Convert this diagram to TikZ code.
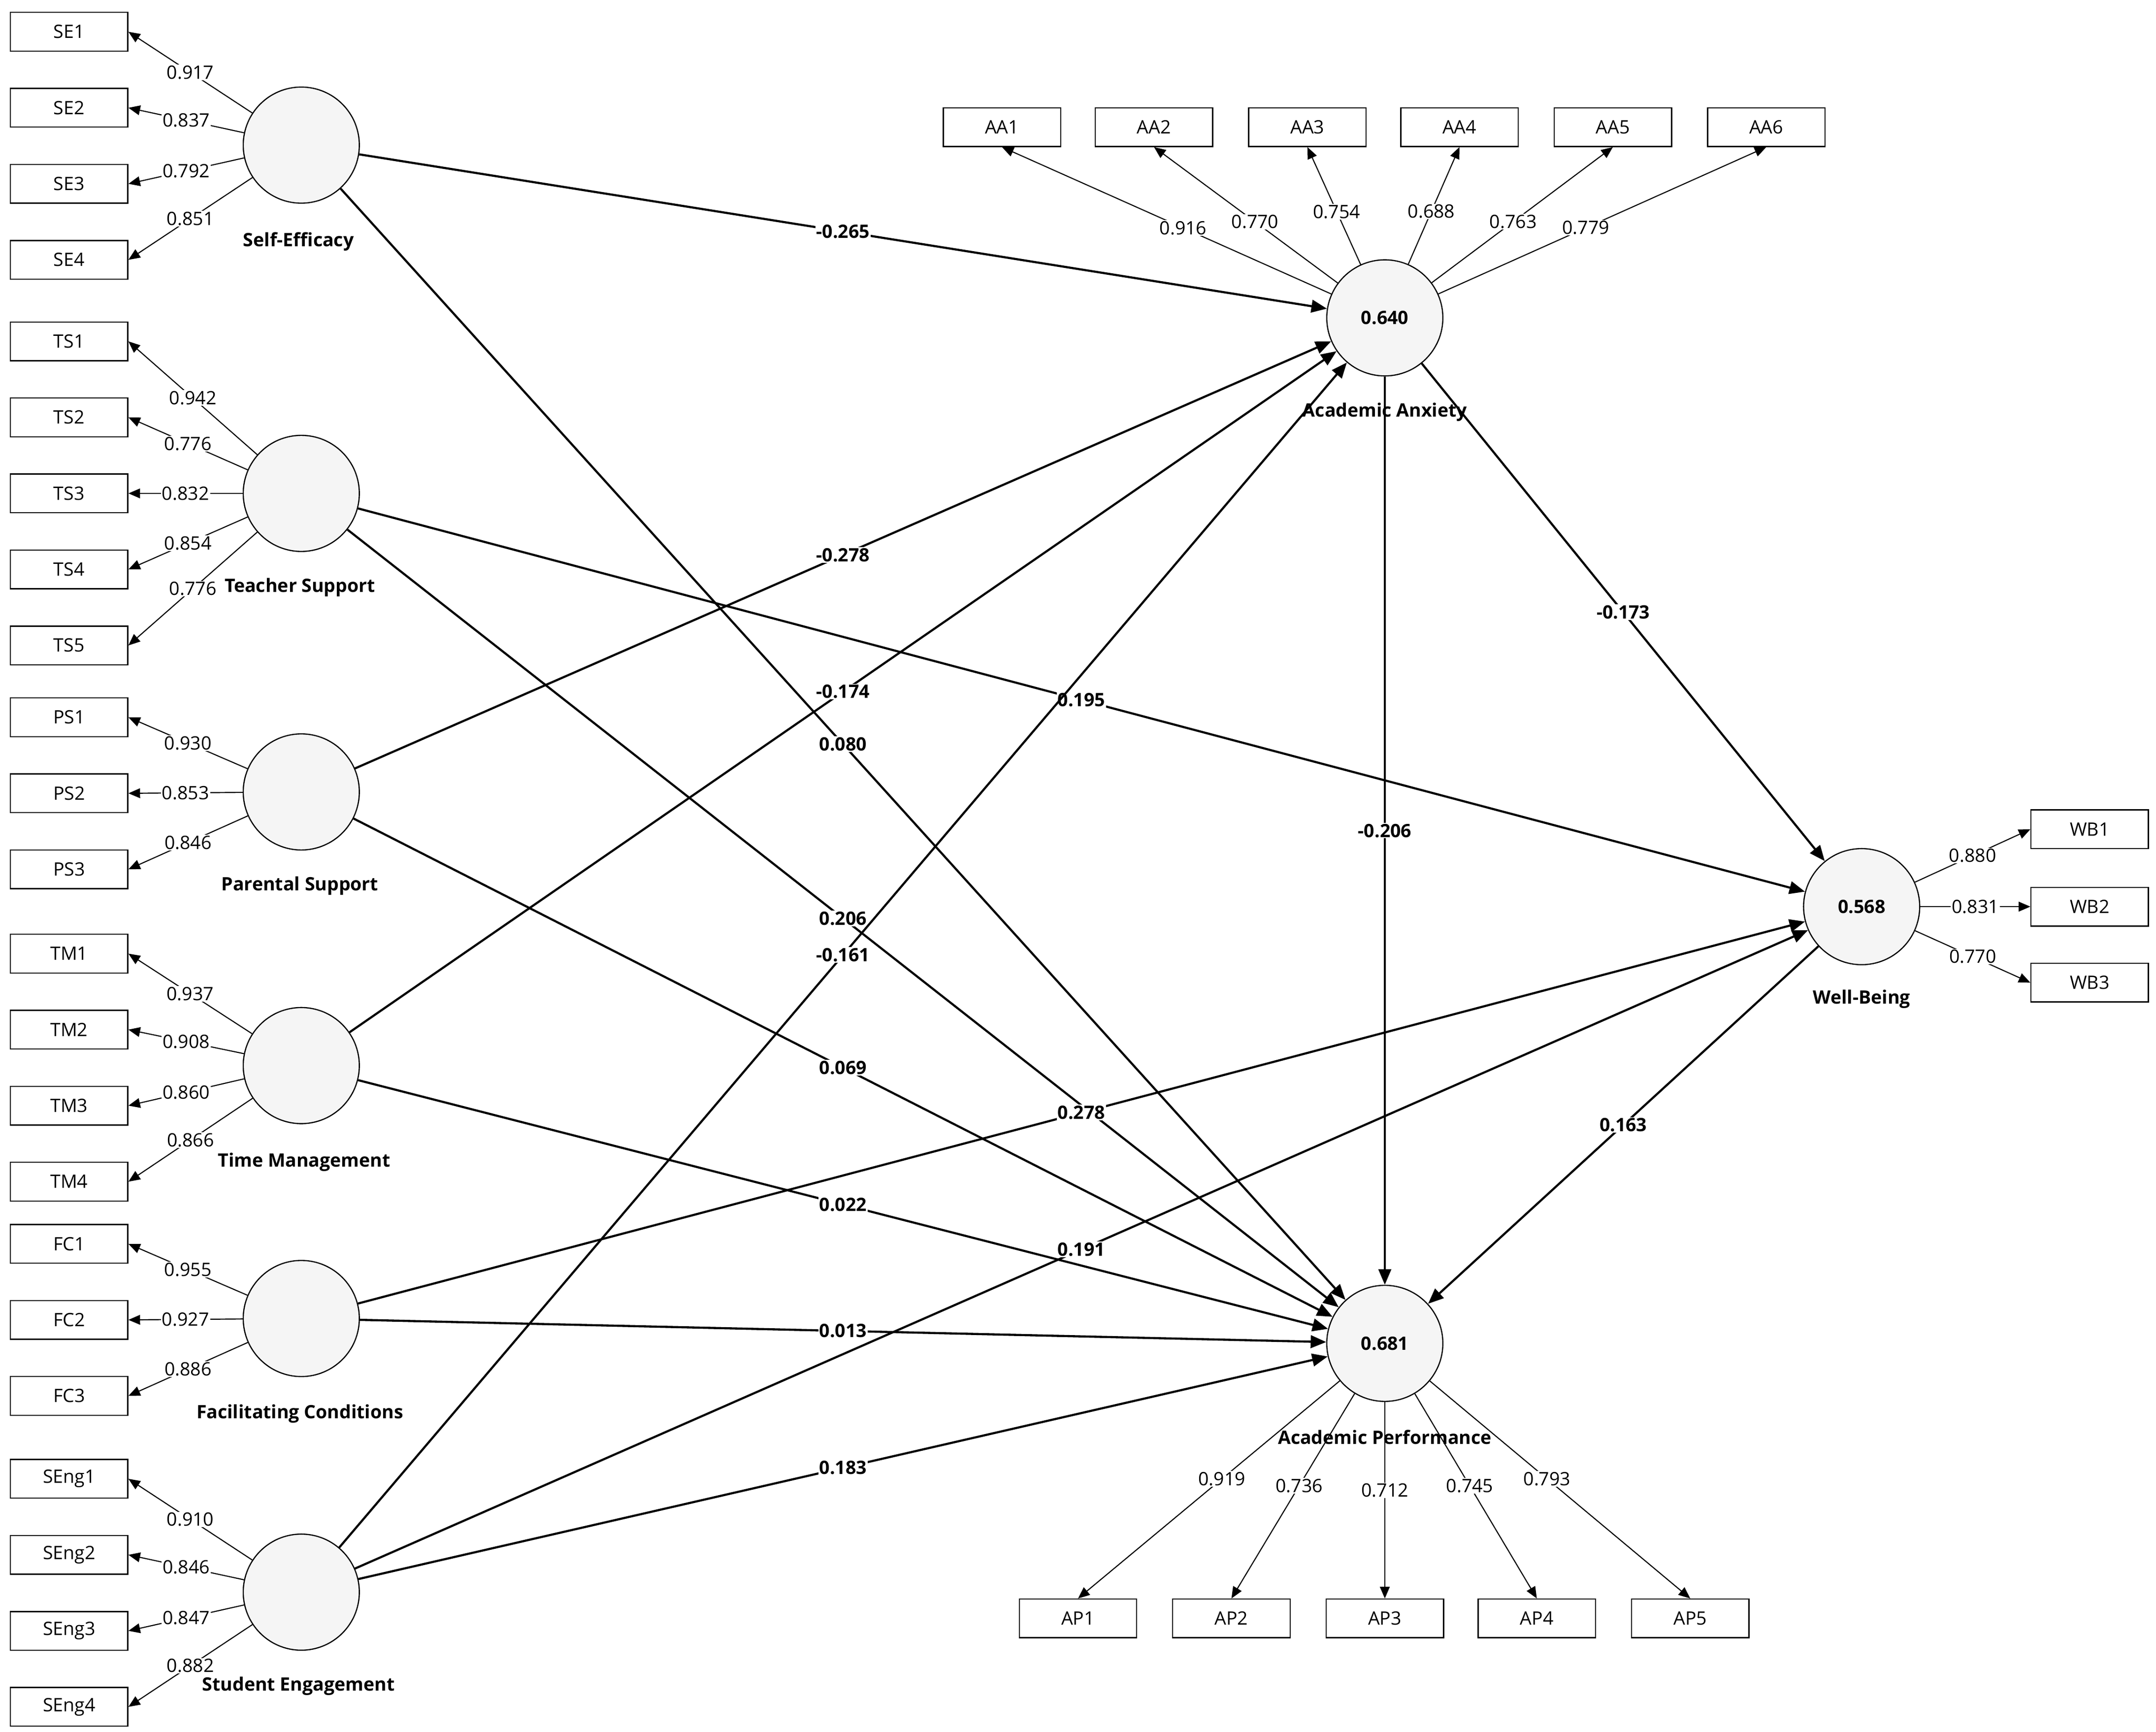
\documentclass[tikz,border=0pt]{standalone}
\usepackage{fontspec}
\setmainfont{Open Sans}
\usetikzlibrary{arrows.meta}
\begin{document}
\begin{tikzpicture}[x=0.05cm,y=-0.05cm,
 ind/.style={draw,fill=white,minimum width=4.25cm,minimum height=1.4cm,inner sep=0pt,font=\fontsize{19}{22}\selectfont,line width=1.2pt},
 lv/.style={draw,circle,fill=white!96!black,minimum size=4.2cm,inner sep=0pt,font=\bfseries\fontsize{19}{22}\selectfont,line width=1.2pt},
 lvl/.style={font=\bfseries\fontsize{19}{22}\selectfont},
 outer/.style={line width=1.1pt,-{Triangle[length=12pt,width=10pt]}},
 str/.style={line width=2.2pt,-{Triangle[length=16pt,width=13pt]}},
 ld/.style={fill=white,inner sep=1pt,font=\fontsize{19}{22}\selectfont},
 pl/.style={fill=white,inner sep=1pt,font=\bfseries\fontsize{19}{22}\selectfont,pos=0.5}]
\useasboundingbox (0,0) rectangle (1560,1253);
% latent variables
\node[lv] (SE) at (218,105) {};
\node[lv] (TS) at (218,357) {};
\node[lv] (PS) at (218,573) {};
\node[lv] (TM) at (218,771) {};
\node[lv] (FC) at (218,954) {};
\node[lv] (SG) at (218,1152) {};
\node[lv] (AA) at (1002,230) {0.640};
\node[lv] (AP) at (1002,972) {0.681};
\node[lv] (WB) at (1347,656) {0.568};
% indicators
\foreach \n/\y in {SE1/23,SE2/78,SE3/133,SE4/188,TS1/247,TS2/302,TS3/357,TS4/412,TS5/467,PS1/519,PS2/574,PS3/629,TM1/690,TM2/745,TM3/800,TM4/855,FC1/900,FC2/955,FC3/1010,SEng1/1070,SEng2/1125,SEng3/1180,SEng4/1235}
  \node[ind] (\n) at (50,\y) {\n};
\foreach \n/\x in {AA1/725,AA2/835,AA3/946,AA4/1056,AA5/1167,AA6/1278}
  \node[ind] (\n) at (\x,92) {\n};
\foreach \n/\x in {AP1/780,AP2/891,AP3/1002,AP4/1112,AP5/1223}
  \node[ind] (\n) at (\x,1171) {\n};
\foreach \n/\y in {WB1/600,WB2/656,WB3/711}
  \node[ind] (\n) at (1512,\y) {\n};
% outer loadings
\foreach \s/\n/\v in {SE/SE1/0.917,SE/SE2/0.837,SE/SE3/0.792,SE/SE4/0.851,
 TS/TS1/0.942,TS/TS2/0.776,TS/TS3/0.832,TS/TS4/0.854,TS/TS5/0.776,
 PS/PS1/0.930,PS/PS2/0.853,PS/PS3/0.846,
 TM/TM1/0.937,TM/TM2/0.908,TM/TM3/0.860,TM/TM4/0.866,
 FC/FC1/0.955,FC/FC2/0.927,FC/FC3/0.886,
 SG/SEng1/0.910,SG/SEng2/0.846,SG/SEng3/0.847,SG/SEng4/0.882}
  \draw[outer] (\s) -- (\n.east) node[ld,pos=0.5] {\v};
\foreach \n/\v in {AA1/0.916,AA2/0.770,AA3/0.754,AA4/0.688,AA5/0.763,AA6/0.779}
  \draw[outer] (AA) -- (\n.south) node[ld,pos=0.45] {\v};
\foreach \n/\v in {AP1/0.919,AP2/0.736,AP3/0.712,AP4/0.745,AP5/0.793}
  \draw[outer] (AP) -- (\n.north) node[ld,pos=0.45] {\v};
\foreach \n/\v in {WB1/0.880,WB2/0.831,WB3/0.770}
  \draw[outer] (WB) -- (\n.west) node[ld,pos=0.5] {\v};
% structural paths
\draw[str] (SE) -- (AA) node[pl] {-0.265};
\draw[str] (SE) -- (AP) node[pl] {0.080};
\draw[str] (TS) -- (AP) node[pl] {0.206};
\draw[str] (TS) -- (WB) node[pl] {0.195};
\draw[str] (PS) -- (AA) node[pl] {-0.278};
\draw[str] (PS) -- (AP) node[pl] {0.069};
\draw[str] (TM) -- (AA) node[pl] {-0.174};
\draw[str] (TM) -- (AP) node[pl] {0.022};
\draw[str] (FC) -- (WB) node[pl] {0.278};
\draw[str] (FC) -- (AP) node[pl] {0.013};
\draw[str] (SG) -- (AA) node[pl] {-0.161};
\draw[str] (SG) -- (WB) node[pl] {0.191};
\draw[str] (SG) -- (AP) node[pl] {0.183};
\draw[str] (AA) -- (WB) node[pl] {-0.173};
\draw[str] (AA) -- (AP) node[pl] {-0.206};
\draw[str] (WB) -- (AP) node[pl] {0.163};
% labels
\node[lvl] (lSE) at (216,175) {Self-Efficacy};
\node[lvl] (lTS) at (217,425) {Teacher Support};
\node[lvl] (lPS) at (217,641) {Parental Support};
\node[lvl] (lTM) at (220,841) {Time Management};
\node[lvl] (lFC) at (217,1023) {Facilitating Conditions};
\node[lvl] (lSG) at (216,1220) {Student Engagement};
\node[lvl] (lAA) at (1002,298) {Academic Anxiety};
\node[lvl] (lAP) at (1002,1040) {Academic Performance};
\node[lvl] (lWB) at (1347,723) {Well-Being};
\end{tikzpicture}
\end{document}
